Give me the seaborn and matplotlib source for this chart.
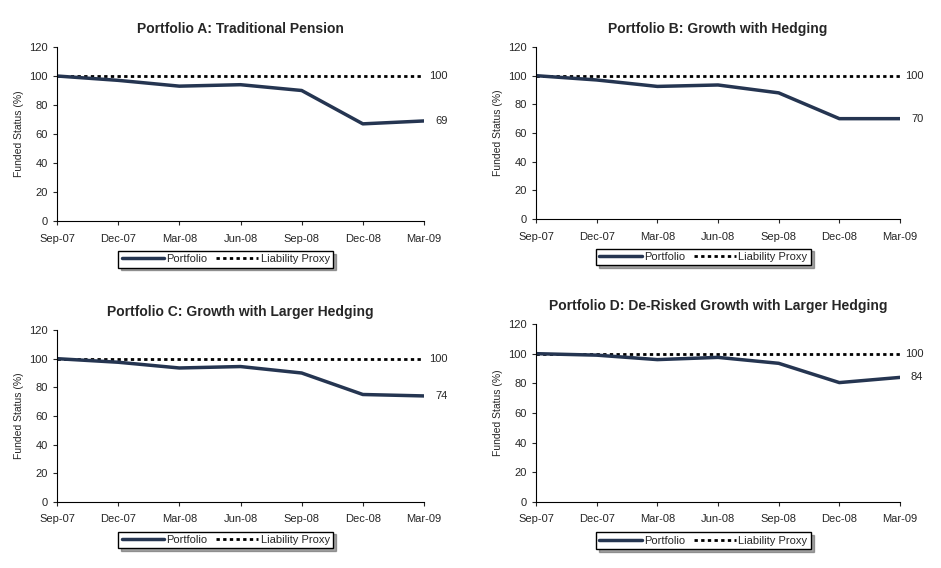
import pandas as pd
import seaborn as sns
import matplotlib.pyplot as plt

dates = ['Sep-07', 'Dec-07', 'Mar-08', 'Jun-08', 'Sep-08', 'Dec-08', 'Mar-09']
titles = ['Portfolio A: Traditional Pension', 'Portfolio B: Growth with Hedging',
          'Portfolio C: Growth with Larger Hedging', 'Portfolio D: De-Risked Growth with Larger Hedging']
port_a = [100, 97, 93, 94, 90, 67, 69]
port_b = [100, 97, 92.5, 93.5, 88, 70, 70]
port_c = [100, 97.5, 93.5, 94.5, 90, 75, 74]
port_d = [100, 99, 96, 97.5, 93.5, 80.5, 84]
liability = [100] * 7
end_labels = ['69', '70', '74', '84']

sns.set_style('white')
plt.rcParams['font.family'] = ['Liberation Sans', 'DejaVu Sans']

fig = plt.figure(figsize=(9.41, 5.68), dpi=100)
W, H = 941, 568
boxes = [(57, 47, 424, 221), (536, 47, 900, 219), (57, 330, 424, 502), (536, 324, 900, 502)]
navy = '#253551'

for (x0, y0, x1, y1), title, vals, lab in zip(boxes, titles, [port_a, port_b, port_c, port_d], end_labels):
    ax = fig.add_axes([x0 / W, 1 - y1 / H, (x1 - x0) / W, (y1 - y0) / H])
    df = pd.DataFrame({'x': range(len(dates)), 'Portfolio': vals, 'Liability Proxy': liability})
    sns.lineplot(data=df, x='x', y='Liability Proxy', ax=ax, color='black', lw=2,
                 linestyle=(0, (1.2, 1.2)), label='Liability Proxy')
    sns.lineplot(data=df, x='x', y='Portfolio', ax=ax, color=navy, lw=2.5, label='Portfolio')
    ax.set_xlim(0, 6)
    ax.set_ylim(0, 120)
    ax.set_xticks(range(7))
    ax.set_xticklabels(dates, fontsize=8)
    ax.set_yticks(range(0, 121, 20))
    ax.tick_params(axis='y', labelsize=8, length=3, left=True)
    ax.tick_params(axis='x', length=3, bottom=True, pad=6)
    ax.set_xlabel('')
    ax.set_ylabel('Funded Status (%)', fontsize=7.5)
    for s in ['top', 'right']:
        ax.spines[s].set_visible(False)
    for s in ['left', 'bottom']:
        ax.spines[s].set_color('black')
        ax.spines[s].set_linewidth(0.8)
    ax.set_title(title, fontsize=10, fontweight='bold', pad=10)
    ax.text(6.08, 100, '100', va='center', fontsize=8)
    ax.text(6.18, vals[-1], lab, va='center', fontsize=8)
    handles, labels = ax.get_legend_handles_labels()
    leg = ax.legend(handles[::-1], labels[::-1], loc='upper center', bbox_to_anchor=(0.46, -0.14),
                    ncol=2, fontsize=8, frameon=True, fancybox=False, shadow=True,
                    handlelength=3.8, handletextpad=0.2, columnspacing=0.8, borderpad=0.3)
    leg.get_frame().set_edgecolor('black')

fig.savefig('out.png', dpi=100)
